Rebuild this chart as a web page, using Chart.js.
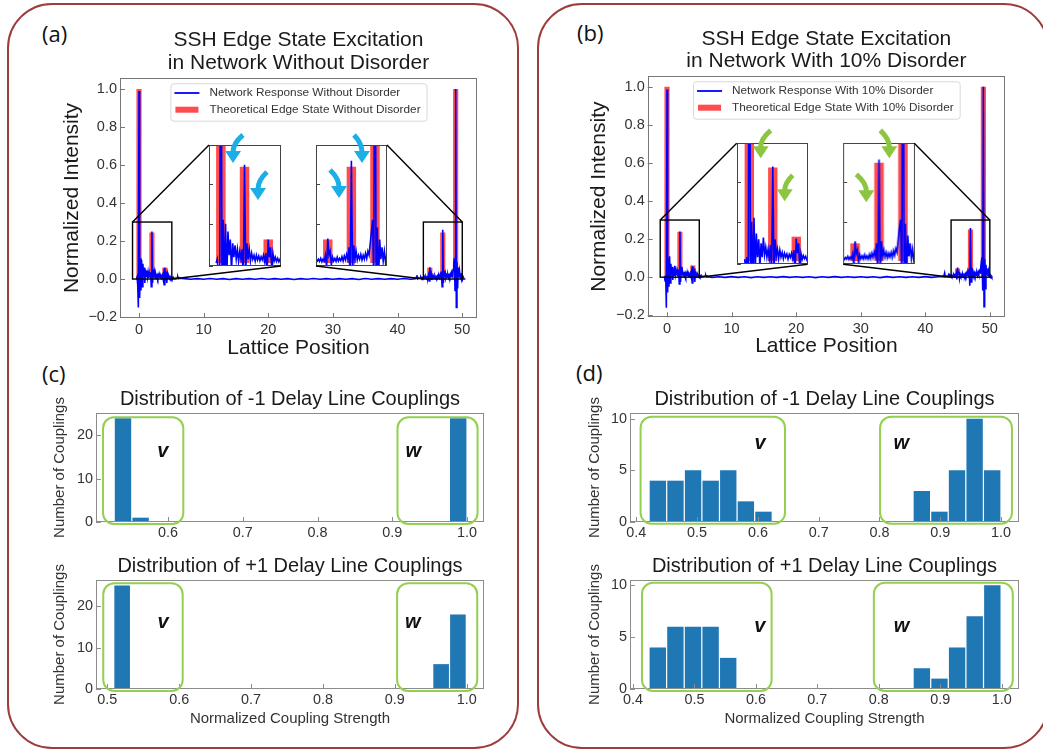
<!DOCTYPE html>
<html>
<head>
<meta charset="utf-8">
<script src="https://cdn.jsdelivr.net/npm/chart.js@4.4.1/dist/chart.umd.min.js"></script>
<style>
body { margin: 0; background: #fff; }
#fig { position: relative; width: 1043px; height: 751px; overflow: hidden; background: #fff; }
.panel { position: absolute; border: 2px solid #9e3b3b; border-radius: 45px; box-sizing: border-box; }
.tag { position: absolute; font-family: "Open Sans", sans-serif; font-size: 22px; line-height: 26px; color: #111; }
canvas { position: absolute; }
</style>
</head>
<body>
<div id="fig">
  <div class="panel" style="left:7px;top:3px;width:512px;height:746px"></div>
  <div class="panel" style="left:537px;top:3px;width:512px;height:746px"></div>
  <div class="tag" style="left:42px;top:20px">(a)</div>
  <div class="tag" style="left:577px;top:19px">(b)</div>
  <div class="tag" style="left:42px;top:360px">(c)</div>
  <div class="tag" style="left:576px;top:359px">(d)</div>
</div>
<script>
// theoretical edge state, per lattice site
const sites = [0, 2, 4, 6, 43, 45, 47, 49];
const edgeA = [1.0, 0.245, 0.06, 0.012, 0.012, 0.06, 0.245, 1.0];
const edgeB = [1.0, 0.238, 0.062, 0.012, 0.012, 0.045, 0.25, 1.0];

// measured network response, read every 0.1 site near both edges
const sampleStep = 0.1;
const leftStart = -0.4;
const rightStart = 43.5;
const respLeftA = [
  0.000, 0.010, -0.030, -0.150, 0.990, -0.100, 0.110, -0.060, 0.100, -0.040,
  0.080, 0.020, 0.060, -0.020, 0.050, 0.015, 0.045, 0.010, 0.035, 0.005,
  0.030, 0.010, 0.035, -0.040, 0.250, -0.020, 0.050, 0.010, 0.035, 0.005,
  0.025, 0.010, 0.020, 0.005, 0.020, 0.008, 0.018, 0.006, 0.016, 0.008,
  0.020, 0.004, 0.025, -0.030, 0.060, 0.015, 0.040, -0.020, 0.025, 0.005,
  0.015, 0.004, 0.012, 0.003, 0.010, 0.002, 0.008, 0.002, 0.006, 0.002
];
const respRightA = [
  0.004, 0.010, 0.003, 0.008, 0.004, 0.010, 0.005, 0.010, 0.004, 0.012,
  0.003, 0.010, 0.005, 0.020, -0.010, 0.062, 0.020, 0.030, -0.005, 0.015,
  0.005, 0.012, 0.004, 0.015, 0.005, 0.012, 0.006, 0.016, 0.005, 0.018,
  0.008, 0.022, 0.010, 0.040, -0.040, 0.260, -0.020, 0.045, 0.010, 0.030,
  0.008, 0.020, 0.010, 0.022, 0.008, 0.020, 0.010, 0.025, 0.012, 0.030,
  0.020, 0.050, 0.080, 0.110, -0.060, 1.000, -0.150, 0.090, -0.050, 0.060,
  0.010, 0.040, 0.005, 0.030, 0.002, 0.020, 0.000, 0.008, 0.000, 0.003
];
const respLeftB = [
  0.005, -0.020, 0.010, -0.160, 0.985, -0.080, 0.100, -0.050, 0.110, -0.030,
  0.070, 0.010, 0.055, -0.015, 0.045, 0.010, 0.060, 0.015, 0.035, 0.010,
  0.030, 0.005, 0.040, -0.035, 0.240, -0.025, 0.055, 0.012, 0.030, 0.006,
  0.028, 0.010, 0.022, 0.006, 0.020, 0.010, 0.018, 0.005, 0.017, 0.009,
  0.020, 0.006, 0.028, -0.030, 0.057, 0.020, 0.045, -0.025, 0.020, 0.004,
  0.014, 0.006, 0.012, 0.003, 0.009, 0.002, 0.007, 0.001, 0.006, 0.002
];
const respRightB = [
  0.003, 0.012, 0.002, 0.009, 0.004, 0.011, 0.004, 0.009, 0.005, 0.012,
  0.004, 0.010, 0.006, 0.018, -0.012, 0.050, 0.018, 0.028, -0.006, 0.016,
  0.006, 0.013, 0.005, 0.016, 0.006, 0.013, 0.005, 0.017, 0.006, 0.020,
  0.009, 0.024, 0.012, 0.045, -0.045, 0.258, -0.025, 0.050, 0.012, 0.028,
  0.010, 0.022, 0.008, 0.020, 0.010, 0.022, 0.009, 0.026, 0.014, 0.032,
  0.022, 0.055, 0.085, 0.105, -0.070, 1.000, -0.155, 0.095, -0.060, 0.065,
  0.012, 0.045, 0.006, 0.030, 0.003, 0.018, 0.001, 0.007, 0.000, 0.003
];
// the bulk, read once per site
const midX = [5.7, 5.9, 6.0, 6.1, 6.3,
  7, 8, 9, 10, 11, 12, 13, 14, 15, 16, 17, 18, 19, 20, 21, 22, 23, 24,
  25, 26, 27, 28, 29, 30, 31, 32, 33, 34, 35, 36, 37, 38, 39, 40, 41, 42,
  42.8, 42.9, 43.0, 43.1, 43.3];
const respMidA = [0.001, 0.004, 0.012, 0.002, 0.004,
  0.002, -0.001, 0.002, -0.001, 0.003, -0.001,
  0.002, -0.002, 0.002, -0.001, 0.002, -0.001,
  0.003, -0.001, 0.002, -0.001, 0.002, -0.002,
  0.002, -0.001, 0.003, -0.001, 0.002, -0.001,
  0.002, -0.001, 0.002, -0.002, 0.003, -0.001,
  0.002, -0.001, 0.002, -0.001, 0.003, -0.001,
  0.002, 0.006, 0.020, 0.001, 0.005];
const respMidB = [0.002, 0.005, 0.010, 0.001, 0.003,
  -0.001, 0.002, -0.001, 0.003, -0.001, 0.002,
  -0.002, 0.002, -0.001, 0.002, -0.001, 0.003,
  -0.001, 0.002, -0.001, 0.002, -0.002, 0.002,
  -0.001, 0.003, -0.001, 0.002, -0.001, 0.002,
  -0.001, 0.002, -0.002, 0.003, -0.001, 0.002,
  -0.001, 0.002, -0.001, 0.003, -0.001, 0.002,
  0.003, 0.008, 0.022, 0.002, 0.004];

// coupling histograms: bin range and counts
const c1Range = [0.528, 1.0];
const c1Counts = [24, 1, 0, 0, 0, 0, 0, 0, 0, 0, 0, 0, 0, 0, 0, 0, 0, 0, 0, 24];
const c2Range = [0.509, 0.9995];
const c2Counts = [25, 0, 0, 0, 0, 0, 0, 0, 0, 0, 0, 0, 0, 0, 0, 0, 0, 0, 0, 6, 18];
const d1Range = [0.421, 1.0];
const d1Counts = [4, 4, 5, 4, 5, 2, 1, 0, 0, 0, 0, 0, 0, 0, 0, 3, 1, 5, 10, 5];
const d2Range = [0.426, 0.999];
const d2Counts = [4, 6, 6, 6, 3, 0, 0, 0, 0, 0, 0, 0, 0, 0, 0, 2, 1, 4, 7, 10];

Chart.defaults.font.family = '"Liberation Sans", Arial, sans-serif';
Chart.defaults.color = '#333';

const fig = document.getElementById('fig');
const FONT = '"Liberation Sans", Arial, sans-serif';

function place(r) {
  const c = document.createElement('canvas');
  c.width = r[2]; c.height = r[3];
  c.style.left = r[0] + 'px'; c.style.top = r[1] + 'px';
  c.style.width = r[2] + 'px'; c.style.height = r[3] + 'px';
  fig.appendChild(c);
  return c;
}

function tracePoints(left, mid, right) {
  const pts = [];
  left.forEach((v, i) => pts.push({x: leftStart + i * sampleStep, y: v}));
  mid.forEach((v, i) => pts.push({x: midX[i], y: v}));
  right.forEach((v, i) => pts.push({x: rightStart + i * sampleStep, y: v}));
  return pts;
}

// plot frame plus inward tick marks
function framePlugin(color, len, axes, fill) {
  return {
    id: 'frame',
    beforeDatasetsDraw(chart) {
      if (!fill) return;
      const a = chart.chartArea, ctx = chart.ctx;
      ctx.save(); ctx.fillStyle = fill; ctx.fillRect(a.left, a.top, a.width, a.height); ctx.restore();
    },
    afterDatasetsDraw(chart) {
      const {ctx, chartArea: a} = chart;
      ctx.save();
      ctx.strokeStyle = color; ctx.lineWidth = 1;
      ctx.strokeRect(Math.round(a.left) + 0.5, Math.round(a.top) + 0.5, Math.round(a.width) - 1, Math.round(a.height) - 1);
      ctx.beginPath();
      axes.forEach(id => {
        const s = chart.scales[id];
        s.ticks.forEach(t => {
          const p = Math.round(s.getPixelForValue(t.value)) + 0.5;
          if (id === 'x') { ctx.moveTo(p, a.bottom); ctx.lineTo(p, a.bottom - len); }
          else { ctx.moveTo(a.left, p); ctx.lineTo(a.left + len, p); }
        });
      });
      ctx.stroke();
      ctx.restore();
    }
  };
}

// legend box in the top of the plot area
const boxLegend = {
  id: 'boxLegend',
  afterDatasetsDraw(chart) {
    const {ctx, chartArea: a} = chart;
    const ds = chart.data.datasets;
    ctx.save();
    ctx.font = '11.8px ' + FONT;
    const w = 39 + Math.max(...ds.map(d => ctx.measureText(d.label).width)) + 6;
    const h = 37.4;
    const left = (a.left + a.right) / 2 - w / 2, top = a.top + 5.3;
    ctx.beginPath(); ctx.roundRect(left + 0.5, top + 0.5, w, h, 3);
    ctx.fillStyle = 'rgba(255,255,255,0.85)'; ctx.fill();
    ctx.strokeStyle = '#d8d8d8'; ctx.lineWidth = 1; ctx.stroke();
    ds.forEach((d, i) => {
      const y = top + 9.7 + i * 16.7;
      if (d.type === 'line') {
        ctx.strokeStyle = d.borderColor; ctx.lineWidth = 1.8;
        ctx.beginPath(); ctx.moveTo(left + 4, y); ctx.lineTo(left + 29, y); ctx.stroke();
      } else {
        ctx.fillStyle = d.backgroundColor; ctx.fillRect(left + 5, y - 3, 23, 6);
      }
      ctx.fillStyle = '#333'; ctx.textBaseline = 'middle'; ctx.textAlign = 'left';
      ctx.fillText(d.label, left + 39, y);
    });
    ctx.restore();
  }
};

function latticeDatasets(p) {
  return [
    {type: 'line', label: p.lineLabel, data: p.trace, borderColor: '#0000ff', borderWidth: 1.6,
     pointRadius: 0, tension: 0, order: 0},
    {type: 'bar', label: p.barLabel, data: sites.map((s, i) => ({x: s, y: p.edge[i]})),
     backgroundColor: 'rgba(255,0,0,0.7)', barPercentage: 1, categoryPercentage: 0.4, order: 1}
  ];
}

function lattice(p) {
  const c = place(p.rect);
  const r = p.rect, ar = p.area;
  return new Chart(c, {
    type: 'bar',
    data: {datasets: latticeDatasets(p)},
    options: {
      animation: false, responsive: false, events: [],
      layout: {padding: {left: 0, right: r[0] + r[2] - ar[2], top: 0, bottom: 0}},
      plugins: {
        legend: {display: false}, tooltip: {enabled: false},
        title: {display: true, fullSize: false, text: p.title, color: '#1a1a1a',
                font: {size: 21, lineHeight: '22.4px', weight: 'normal'},
                padding: {top: p.titleTop - r[1], bottom: ar[1] - p.titleTop - 44.8}}
      },
      scales: {
        x: {type: 'linear', min: p.xr[0], max: p.xr[1], offset: false,
            grid: {display: false, drawTicks: false}, border: {display: false},
            ticks: {stepSize: 10, includeBounds: false, padding: 3, font: {size: 14.5}, color: '#333',
                    callback: v => String(v)},
            title: {display: true, text: 'Lattice Position', color: '#1a1a1a', font: {size: 21},
                    padding: {top: 0, bottom: r[1] + r[3] - p.xTitleY - 12.6}},
            afterFit: s => { s.height = r[1] + r[3] - ar[3]; }},
        y: {type: 'linear', min: p.yr[0], max: p.yr[1],
            grid: {display: false, drawTicks: false}, border: {display: false},
            ticks: {stepSize: 0.2, includeBounds: false, padding: 3, font: {size: 14.5}, color: '#333',
                    callback: v => v.toFixed(1).replace('-', '\u2212')},
            title: {display: true, text: 'Normalized Intensity', color: '#1a1a1a', font: {size: 21},
                    padding: {top: p.yTitleX - r[0] - 12.6, bottom: 0}},
            afterFit: s => { s.width = ar[0] - r[0]; }}
      }
    },
    plugins: [framePlugin('#777', 5, ['x', 'y']), boxLegend]
  });
}

function inset(p, frame, xr) {
  const c = place([frame[0] - 10, frame[1] - 22, frame[2] - frame[0] + 20, frame[3] - frame[1] + 32]);
  return new Chart(c, {
    type: 'bar',
    data: {datasets: latticeDatasets(p)},
    options: {
      animation: false, responsive: false, events: [],
      layout: {padding: {left: 10, top: 22, right: 10, bottom: 10}},
      plugins: {legend: {display: false}, tooltip: {enabled: false}},
      scales: {
        x: {type: 'linear', display: false, min: xr[0], max: xr[1], offset: false,
            afterBuildTicks: s => { s.ticks = []; }},
        y: {type: 'linear', display: false, min: -0.0075, max: 0.3, ticks: {stepSize: 0.1}}
      }
    },
    plugins: [framePlugin('#444', 4, ['y'], '#fff')]
  });
}

// green group boxes with v / w labels
function groupPlugin(boxes) {
  return {
    id: 'groups',
    afterDatasetsDraw(chart) {
      const {ctx, scales: {x, y}} = chart;
      ctx.save();
      boxes.forEach(b => {
        const l = x.getPixelForValue(b.x[0]), r = x.getPixelForValue(b.x[1]);
        const t = y.getPixelForValue(b.y[1]), bt = y.getPixelForValue(b.y[0]);
        ctx.beginPath(); ctx.roundRect(l, t, r - l, bt - t, 11);
        ctx.strokeStyle = '#92d050'; ctx.lineWidth = 2; ctx.stroke();
        ctx.font = 'italic bold 20px ' + FONT; ctx.fillStyle = '#111';
        ctx.textAlign = 'center'; ctx.textBaseline = 'middle';
        ctx.fillText(b.label, x.getPixelForValue(b.at[0]), y.getPixelForValue(b.at[1]));
      });
      ctx.restore();
    }
  };
}

function histo(p) {
  const c = place(p.rect);
  const r = p.rect, ar = p.area;
  const w = (p.range[1] - p.range[0]) / p.counts.length;
  const data = p.counts.map((n, i) => ({x: p.range[0] + (i + 0.5) * w, y: n}));
  return new Chart(c, {
    type: 'bar',
    data: {datasets: [{data, backgroundColor: '#1f77b4', borderWidth: 0, barPercentage: 1, categoryPercentage: 0.93}]},
    options: {
      animation: false, responsive: false, events: [],
      layout: {padding: {left: 0, right: r[0] + r[2] - ar[2], top: 0, bottom: 0}},
      plugins: {
        legend: {display: false}, tooltip: {enabled: false},
        title: {display: true, fullSize: false, text: p.title, color: '#1a1a1a',
                font: {size: 20, weight: 'normal', lineHeight: 1.2},
                padding: {top: p.titleY - 12 - r[1], bottom: ar[1] - p.titleY - 12}}
      },
      scales: {
        x: {type: 'linear', min: p.xr[0], max: p.xr[1], offset: false,
            grid: {display: false, drawTicks: false}, border: {display: false},
            ticks: {stepSize: 0.1, includeBounds: false, padding: 2.5, font: {size: 14.4}, color: '#333',
                    callback: v => v.toFixed(1)},
            title: {display: !!p.xTitle, text: p.xTitle || '', color: '#333', font: {size: 15},
                    padding: {top: 0, bottom: 7}},
            afterFit: s => { s.height = r[1] + r[3] - ar[3]; }},
        y: {type: 'linear', min: 0, max: p.ymax,
            grid: {display: false, drawTicks: false}, border: {display: false},
            ticks: {stepSize: p.ystep, includeBounds: false, padding: 3, font: {size: 14.4}, color: '#333'},
            title: {display: true, text: 'Number of Couplings', color: '#333', font: {size: 15},
                    padding: {top: p.yTitleX - r[0] - 9, bottom: 0}},
            afterFit: s => { s.width = ar[0] - r[0]; }}
      }
    },
    plugins: [framePlugin('#8c8c8c', 5, ['x', 'y']), groupPlugin(p.boxes)]
  });
}

const pA = {
  rect: [20, 0, 480, 365], area: [120, 78, 477, 318], titleTop: 29.5, xTitleY: 348, yTitleX: 72,
  xr: [-2.94, 52.3], yr: [-0.205, 1.058],
  title: ['SSH Edge State Excitation', 'in Network Without Disorder'],
  lineLabel: 'Network Response Without Disorder', barLabel: 'Theoretical Edge State Without Disorder',
  trace: tracePoints(respLeftA, respMidA, respRightA), edge: edgeA
};
const pB = {
  rect: [548, 0, 480, 365], area: [647.7, 76, 1005, 317.3], titleTop: 28.1, xTitleY: 346.7, yTitleX: 599,
  xr: [-2.99, 52.35], yr: [-0.2105, 1.056],
  title: ['SSH Edge State Excitation', 'in Network With 10% Disorder'],
  lineLabel: 'Network Response With 10% Disorder', barLabel: 'Theoretical Edge State With 10% Disorder',
  trace: tracePoints(respLeftB, respMidB, respRightB), edge: edgeB
};

const mainA = lattice(pA);
const mainB = lattice(pB);

const zoomA = [[-1.0, 5.08], [44.0, 50.02]];
const zoomB = [[-1.05, 5.0], [44.0, 50.0]];
const insA = [inset(pA, [209, 145, 281, 266], zoomA[0]), inset(pA, [316, 145, 387, 266], zoomA[1])];
const insB = [inset(pB, [736.7, 143.3, 808.3, 264.3], zoomB[0]), inset(pB, [843.3, 143.3, 915, 264.3], zoomB[1])];

histo({rect: [40, 380, 460, 160], area: [96, 413, 484, 522], titleY: 399, yTitleX: 60,
       title: 'Distribution of -1 Delay Line Couplings', xr: [0.5037, 1.0227], ymax: 25.2, ystep: 10,
       range: c1Range, counts: c1Counts,
       boxes: [{x: [0.5131, 0.6205], y: [-0.46, 24.2], label: 'v', at: [0.593, 16.2]},
               {x: [0.907, 1.0141], y: [-0.46, 24.2], label: 'w', at: [0.928, 16.2]}]});
histo({rect: [40, 545, 460, 190], area: [96, 580, 484, 689], titleY: 566, yTitleX: 60,
       title: 'Distribution of +1 Delay Line Couplings', xr: [0.4843, 1.0241], ymax: 26.3, ystep: 10,
       xTitle: 'Normalized Coupling Strength', range: c2Range, counts: c2Counts,
       boxes: [{x: [0.4944, 0.6049], y: [-0.48, 25.5], label: 'v', at: [0.5775, 16.1]},
               {x: [0.9032, 1.0147], y: [-0.48, 25.5], label: 'w', at: [0.925, 16.1]}]});
histo({rect: [575, 380, 460, 160], area: [630, 413, 1019, 522], titleY: 399, yTitleX: 595,
       title: 'Distribution of -1 Delay Line Couplings', xr: [0.3896, 1.0296], ymax: 10.55, ystep: 5,
       range: d1Range, counts: d1Counts,
       boxes: [{x: [0.407, 0.6446], y: [-0.16, 10.19], label: 'v', at: [0.6035, 7.56]},
               {x: [0.801, 1.018], y: [-0.16, 10.19], label: 'w', at: [0.836, 7.56]}]});
histo({rect: [575, 545, 460, 190], area: [630, 580, 1019, 689], titleY: 566, yTitleX: 595,
       title: 'Distribution of +1 Delay Line Couplings', xr: [0.3951, 1.0281], ymax: 10.5, ystep: 5,
       xTitle: 'Normalized Coupling Strength', range: d2Range, counts: d2Counts,
       boxes: [{x: [0.4146, 0.6255], y: [-0.19, 10.23], label: 'v', at: [0.6065, 6.0]},
               {x: [0.7919, 1.018], y: [-0.19, 10.23], label: 'w', at: [0.837, 6.0]}]});

// zoom boxes, connector lines and arrows on top of everything
const overlay = place([0, 0, 1043, 751]);
overlay.style.pointerEvents = 'none';
const octx = overlay.getContext('2d');

function offs(ch) { return [parseFloat(ch.canvas.style.left), parseFloat(ch.canvas.style.top)]; }

function arrow(ctx, tx, ty, hx, hy, color) {
  const cx = hx, cy = ty + 0.3 * (hy - ty);
  let dx = hx - cx, dy = hy - cy;
  const L = Math.hypot(dx, dy); dx /= L; dy /= L;
  const hl = 12, hw = 8;
  const bx = hx - dx * hl, by = hy - dy * hl;
  ctx.save();
  ctx.strokeStyle = color; ctx.fillStyle = color; ctx.lineWidth = 5; ctx.lineCap = 'butt';
  ctx.beginPath(); ctx.moveTo(tx, ty); ctx.quadraticCurveTo(cx, cy, bx, by + 1); ctx.stroke();
  ctx.beginPath(); ctx.moveTo(hx, hy); ctx.lineTo(bx - dy * hw, by + dx * hw); ctx.lineTo(bx + dy * hw, by - dx * hw);
  ctx.closePath(); ctx.fill();
  ctx.restore();
}

function annotate(main, insets, zooms, arrows, color) {
  const [mx, my] = offs(main);
  const sx = main.scales.x, sy = main.scales.y;
  octx.save();
  octx.strokeStyle = '#000'; octx.lineWidth = 1.4;
  zooms.forEach((z, k) => {
    const l = mx + sx.getPixelForValue(z[0]), r = mx + sx.getPixelForValue(z[1]);
    const t = my + sy.getPixelForValue(0.3), b = my + sy.getPixelForValue(0);
    octx.strokeRect(l, t, r - l, b - t);
    const ins = insets[k], [ix, iy] = offs(ins), a = ins.chartArea;
    const il = ix + a.left, ir = ix + a.right, it = iy + a.top, ib = iy + a.bottom;
    octx.beginPath();
    if (k === 0) { octx.moveTo(l, t); octx.lineTo(il, it); octx.moveTo(r, b); octx.lineTo(ir, ib); }
    else { octx.moveTo(r, t); octx.lineTo(ir, it); octx.moveTo(l, b); octx.lineTo(il, ib); }
    octx.stroke();
    arrows[k].forEach(q => arrow(octx, il + q[0], it + q[1], il + q[2], it + q[3], color));
  });
  octx.restore();
}

annotate(mainA, insA, zoomA, [[[34, -10, 24, 18], [58, 27, 49, 55]], [[38, -10, 46, 18], [14, 25, 23, 53]]], '#1aafe6');
annotate(mainB, insB, zoomB, [[[34, -13, 24, 15], [56, 32, 48, 58]], [[37, -13, 46, 15], [13, 31, 23, 59]]], '#8cc640');
</script>
</body>
</html>
